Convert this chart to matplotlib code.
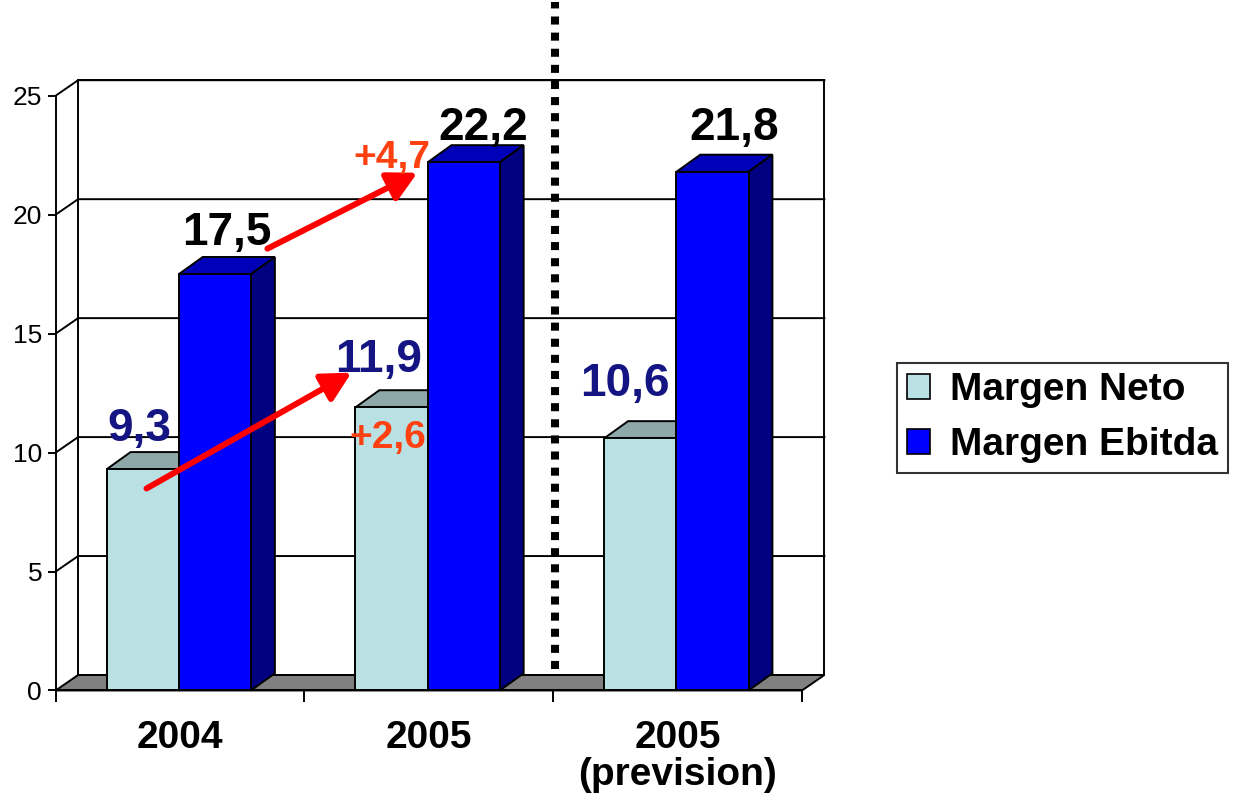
import matplotlib
matplotlib.use('Agg')
import matplotlib.pyplot as plt
from matplotlib.patches import Polygon, Patch

plt.rcParams['font.family'] = ['Liberation Sans', 'DejaVu Sans']

# data
categories = ['2004', '2005', '2005\n(prevision)']
margen_neto = [9.3, 11.9, 10.6]
margen_ebitda = [17.5, 22.2, 21.8]
series_names = ['Margen Neto', 'Margen Ebitda']
y_ticks = [0, 5, 10, 15, 20, 25]

# colours
neto_front, neto_top = '#B9E0E3', '#8EA7A9'
ebitda_front, ebitda_top, ebitda_side = '#0000FF', '#0000B8', '#000080'
navy = '#141482'
orange = '#FF4010'

# 3d depth in data units
dxw, dyw = 0.090, 0.65   # walls / floor
dxb, dyb = 0.096, 0.72   # bars

def fmt(v):
    return ('%.1f' % v).replace('.', ',')

fig = plt.figure(figsize=(12.35, 8), dpi=100)
ax = fig.add_axes([0.0451, 0.1369, 0.6043, 0.7435])
ax.set_xlim(0, 3)
ax.set_ylim(0, 25)
ax.patch.set_alpha(0)
ax.spines['right'].set_visible(False)
ax.spines['top'].set_visible(False)
ax.spines['left'].set_linewidth(1.4)
ax.spines['bottom'].set_linewidth(1.4)

# back wall, side wall and floor
ncat = len(categories)
ax.add_patch(Polygon([(dxw, dyw), (ncat + dxw, dyw), (ncat + dxw, 25 + dyw), (dxw, 25 + dyw)],
                     closed=True, facecolor='white', edgecolor='black', lw=1.4, clip_on=False, zorder=0))
for v in y_ticks[1:]:
    ax.plot([0, dxw, ncat + dxw], [v, v + dyw, v + dyw], color='black', lw=1.4, clip_on=False, zorder=1)
ax.add_patch(Polygon([(0, 0), (ncat, 0), (ncat + dxw, dyw), (dxw, dyw)],
                     closed=True, facecolor='#808080', edgecolor='black', lw=1.4, clip_on=False, zorder=1))

# bars with top and side faces
width = 0.29
x_neto = [i + 0.205 for i in range(ncat)]
x_ebitda = [i + 0.205 + width for i in range(ncat)]
series = [(x_neto, margen_neto, neto_front, neto_top, neto_top),
          (x_ebitda, margen_ebitda, ebitda_front, ebitda_top, ebitda_side)]
z = 2
for xs, vals, fc, tc, sc in series:
    bars = ax.bar(xs, vals, width=width, align='edge', color=fc, edgecolor='black', lw=1.4, zorder=z + 1)
    for b in bars:
        x0, h, w = b.get_x(), b.get_height(), b.get_width()
        ax.add_patch(Polygon([(x0, h), (x0 + w, h), (x0 + w + dxb, h + dyb), (x0 + dxb, h + dyb)],
                             closed=True, facecolor=tc, edgecolor='black', lw=1.4, clip_on=False, zorder=z))
        ax.add_patch(Polygon([(x0 + w, 0), (x0 + w, h), (x0 + w + dxb, h + dyb), (x0 + w + dxb, dyb)],
                             closed=True, facecolor=sc, edgecolor='black', lw=1.4, clip_on=False, zorder=z))
    z += 2

# dotted separator between real and forecast
ax.plot([2.008, 2.008], [0.9, 28.95], color='black', lw=5.8, linestyle=(0, (1, 1)),
        dash_capstyle='butt', clip_on=False, zorder=8)

# value labels (offsets relative to bar)
neto_off = [(-0.06, 1.7), (-0.10, 1.97), (-0.11, 2.3)]
ebitda_off = [(0.0, 1.74), (0.03, 1.44), (0.04, 1.84)]
for i in range(ncat):
    cx = x_neto[i] + width / 2 + dxb / 2
    ax.text(cx + neto_off[i][0], margen_neto[i] + neto_off[i][1], fmt(margen_neto[i]),
            ha='center', va='center', fontsize=33, fontweight='bold', color=navy, zorder=10)
    cx = x_ebitda[i] + width / 2 + dxb / 2
    ax.text(cx + ebitda_off[i][0], margen_ebitda[i] + ebitda_off[i][1], fmt(margen_ebitda[i]),
            ha='center', va='center', fontsize=33, fontweight='bold', color='black', zorder=10)

# growth arrows 2004 -> 2005
d_neto = margen_neto[1] - margen_neto[0]
d_ebitda = margen_ebitda[1] - margen_ebitda[0]
astyle = dict(arrowstyle='-|>,head_length=0.8,head_width=0.42', color='#FF0000', lw=4.3,
              mutation_scale=22, shrinkA=0, shrinkB=0)
ax.annotate('', xy=(1.189, margen_neto[1] + 1.46), xytext=(0.365, margen_neto[0] - 0.81),
            arrowprops=astyle, zorder=11, annotation_clip=False)
ax.annotate('', xy=(1.454, margen_ebitda[1] - 0.44), xytext=(0.851, margen_ebitda[0] + 1.07),
            arrowprops=astyle, zorder=11, annotation_clip=False)
ax.text(1.333, margen_neto[1] - 1.27, '+' + fmt(d_neto), ha='center', va='center',
        fontsize=28, fontweight='bold', color=orange, zorder=12)
ax.text(1.353, margen_ebitda[1] + 0.19, '+' + fmt(d_ebitda), ha='center', va='center',
        fontsize=28, fontweight='bold', color=orange, zorder=12)

# axes ticks
ax.set_yticks(y_ticks)
ax.tick_params(axis='y', direction='out', length=5.8, width=1.4, pad=4, labelsize=19)
ax.set_xticks(range(ncat + 1))
ax.set_xticklabels([])
ax.tick_params(axis='x', which='major', direction='out', length=8.6, width=1.4)
ax.set_xticks([i + 0.5 for i in range(ncat)], minor=True)
ax.set_xticklabels(categories, minor=True, fontsize=28, fontweight='bold', linespacing=1.05)
ax.tick_params(axis='x', which='minor', length=0, pad=21)

# legend
handles = [Patch(facecolor=neto_front, edgecolor='black', lw=1.2),
           Patch(facecolor=ebitda_front, edgecolor='black', lw=1.2)]
leg = fig.legend(handles, series_names, loc='center', bbox_to_anchor=(0.8603, 0.478),
                 prop={'size': 28, 'weight': 'bold'}, frameon=True, fancybox=False,
                 handlelength=0.6, handleheight=0.6, handletextpad=0.5,
                 borderpad=0.25, labelspacing=0.48, borderaxespad=0)
leg.get_frame().set_edgecolor('black')
leg.get_frame().set_linewidth(1.5)

plt.savefig('out.png', dpi=100, facecolor='white')
